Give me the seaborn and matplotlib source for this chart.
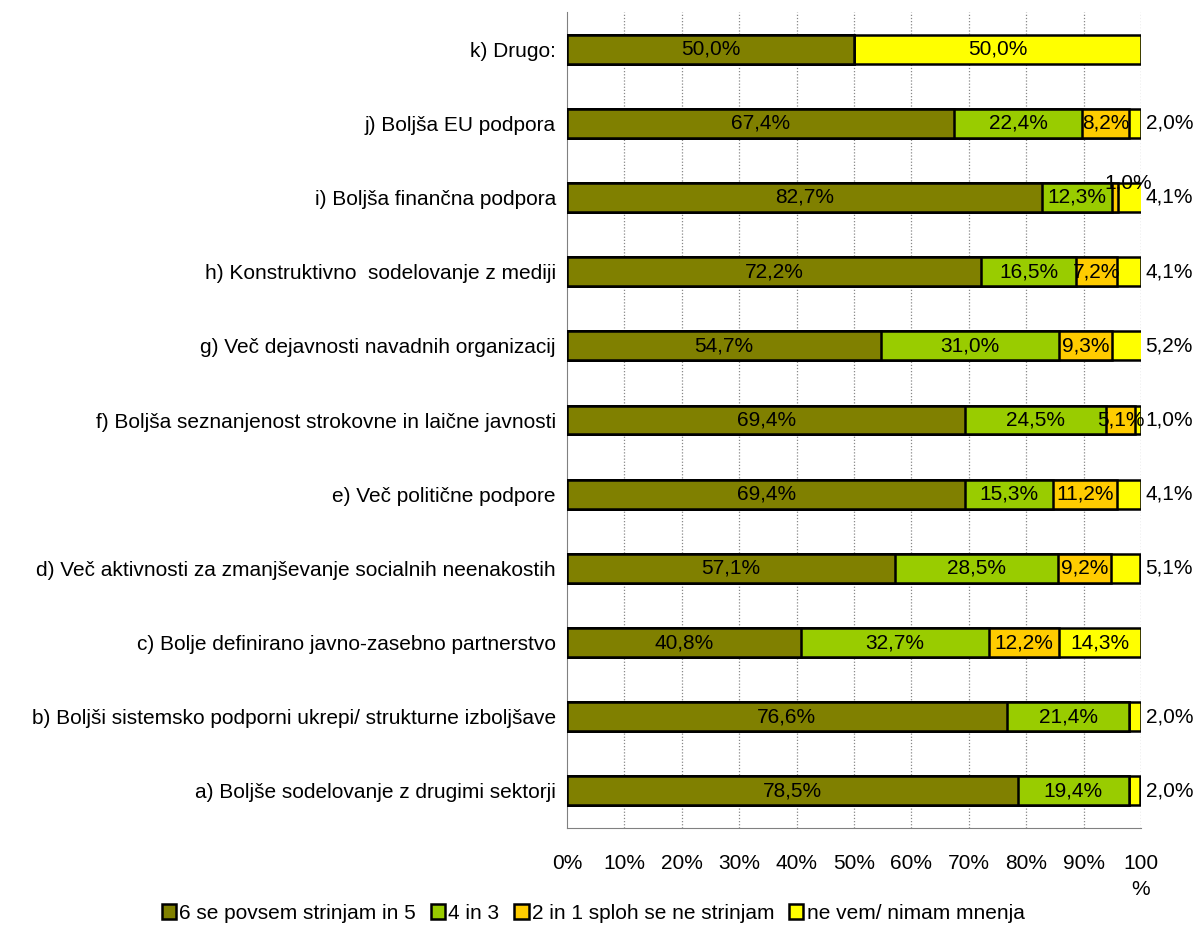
import numpy as np
import pandas as pd
import matplotlib
matplotlib.use("Agg")
import matplotlib.pyplot as plt
from matplotlib.patches import Patch
import seaborn as sns

# Statements, listed top to bottom
categories = [
    "k) Drugo:",
    "j) Boljša EU podpora",
    "i) Boljša finančna podpora",
    "h) Konstruktivno  sodelovanje z mediji",
    "g) Več dejavnosti navadnih organizacij",
    "f) Boljša seznanjenost strokovne in laične javnosti",
    "e) Več politične podpore",
    "d) Več aktivnosti za zmanjševanje socialnih neenakostih",
    "c) Bolje definirano javno-zasebno partnerstvo",
    "b) Boljši sistemsko podporni ukrepi/ strukturne izboljšave",
    "a) Boljše sodelovanje z drugimi sektorji",
]

# Share of answers per statement (%)
agree_6_5 = [50.0, 67.4, 82.7, 72.2, 54.7, 69.4, 69.4, 57.1, 40.8, 76.6, 78.5]
mid_4_3 = [0.0, 22.4, 12.3, 16.5, 31.0, 24.5, 15.3, 28.5, 32.7, 21.4, 19.4]
disagree_2_1 = [0.0, 8.2, 1.0, 7.2, 9.3, 5.1, 11.2, 9.2, 12.2, 0.0, 0.0]
dont_know = [50.0, 2.0, 4.1, 4.1, 5.2, 1.0, 4.1, 5.1, 14.3, 2.0, 2.0]

series_names = [
    "6 se povsem strinjam in 5",
    "4 in 3",
    "2 in 1 sploh se ne strinjam",
    "ne vem/ nimam mnenja",
]
colors = ["#808000", "#99CC00", "#FFCC00", "#FFFF00"]

x_ticks = [0, 10, 20, 30, 40, 50, 60, 70, 80, 90, 100]
x_ticklabels = ["0%", "10%", "20%", "30%", "40%", "50%", "60%", "70%", "80%", "90%", "100\n%"]

sns.set_style("white")
plt.rcParams["font.family"] = ["Liberation Sans", "DejaVu Sans"]
plt.rcParams["text.color"] = "black"
plt.rcParams["xtick.color"] = "black"
plt.rcParams["ytick.color"] = "black"
FS = 15

df = pd.DataFrame({
    "cat": categories,
    "s1": agree_6_5,
    "s2": mid_4_3,
    "s3": disagree_2_1,
    "s4": dont_know,
})
vals = df[["s1", "s2", "s3", "s4"]].to_numpy()
cum = np.cumsum(vals, axis=1)

fig = plt.figure(figsize=(11.98, 9.27), dpi=100)
ax = fig.add_axes([0.4733, 0.1068, 0.4791, 0.8802])

# Stacked bars: draw cumulative totals from the longest down so each
# segment shows its own colour on top of the previous one.
for k in range(3, -1, -1):
    sns.barplot(
        x=cum[:, k], y=df["cat"], order=categories, orient="h",
        color=colors[k], edgecolor="black", linewidth=1.8,
        width=0.39, saturation=1, ax=ax, zorder=3,
    )

ax.set_xlim(0, 100)
ax.set_ylim(10.5, -0.5)
ax.set_xlabel("")
ax.set_ylabel("")

# Value labels
def fmt(v):
    return f"{v:.1f}%".replace(".", ",")

for i in range(len(categories)):
    left = 0.0
    for k in range(4):
        v = vals[i, k]
        if v > 0:
            cx = left + v / 2
            if k == 3 and v < 10:
                ax.text(100.8, i, fmt(v), ha="left", va="center", fontsize=FS,
                        color="black", zorder=5)
            elif k == 2 and v < 3:
                ax.text(cx + 2.2, i - 0.2, fmt(v), ha="center", va="center", fontsize=FS,
                        color="black", zorder=5)
            else:
                ax.text(cx, i, fmt(v), ha="center", va="center", fontsize=FS,
                        color="black", zorder=5)
        left += v

# Axes styling
ax.set_xticks(x_ticks)
ax.set_xticklabels(x_ticklabels, fontsize=FS)
for lbl in ax.get_xticklabels():
    lbl.set_linespacing(1.45)
ax.tick_params(axis="x", direction="out", length=6, width=1, color="#808080", pad=13)

ax.set_yticks(range(len(categories)))
ax.set_yticklabels(categories, fontsize=FS)
ax.tick_params(axis="y", which="major", length=0, pad=8)
ax.set_yticks(np.arange(-0.5, len(categories) + 0.5, 1), minor=True)
ax.tick_params(axis="y", which="minor", direction="out", length=6, width=1, color="#808080")

ax.grid(False)
for x in x_ticks[1:]:
    ax.axvline(x, color="#888888", linestyle=(0, (1, 1.5)), linewidth=0.9, zorder=1)

for side in ["top", "right"]:
    ax.spines[side].set_visible(False)
ax.spines["left"].set_color("#808080")
ax.spines["bottom"].set_color("#808080")

handles = [Patch(facecolor=c, edgecolor="black", linewidth=1.8) for c in colors]
fig.legend(
    handles, series_names, loc="center", bbox_to_anchor=(0.495, 0.015),
    ncol=4, frameon=False, fontsize=FS, handlelength=0.7, handleheight=0.7,
    handletextpad=0.15, columnspacing=0.7, borderaxespad=0,
)

fig.savefig("out.png", dpi=100)
